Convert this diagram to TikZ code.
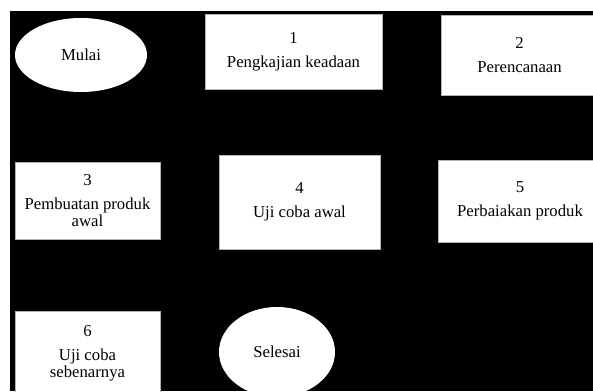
\documentclass[tikz,border=0pt]{standalone}
\usepackage{fontspec}
\setmainfont{Liberation Serif}
\usetikzlibrary{shapes.geometric}

\begin{document}
\begin{tikzpicture}[x=1pt,y=1pt]
\tikzstyle{every node}+=[inner sep=0pt, align=center, font=\fontsize{16.7}{17}\selectfont]
\tikzstyle{kotak}=[rectangle, fill=white, draw=gray!60, line width=0.8pt]
\tikzstyle{oval}=[ellipse, fill=white]
\useasboundingbox (0,0) rectangle (593,-391);
\clip (0,0) rectangle (593,-391);
\fill [black] (10,-11) rectangle (593,-391);
\node [oval, minimum width=132pt, minimum height=74pt] (mulai) at (81,-55) {Mulai};
\node [kotak, minimum width=177pt, minimum height=75pt] (tahap1) at (293.5,-51.5) {1\\[7pt]Pengkajian keadaan};
\node [kotak, minimum width=157pt, minimum height=80pt] (tahap2) at (519.5,-55) {2\\[7pt]Perencanaan};
\node [kotak, minimum width=145pt, minimum height=77pt] (tahap3) at (87.5,-200.5) {3\\[7pt]Pembuatan produk\\awal};
\node [kotak, minimum width=161pt, minimum height=94pt] (tahap4) at (299.5,-202) {4\\[7pt]Uji coba awal};
\node [kotak, minimum width=164pt, minimum height=82pt] (tahap5) at (520,-201) {5\\[7pt]Perbaiakan produk};
\node [kotak, minimum width=145pt, minimum height=84pt] (tahap6) at (87.5,-353) {6\\[7pt]Uji coba\\sebenarnya};
\node [oval, minimum width=116pt, minimum height=90pt] (selesai) at (277,-352) {Selesai};
\end{tikzpicture}
\end{document}
